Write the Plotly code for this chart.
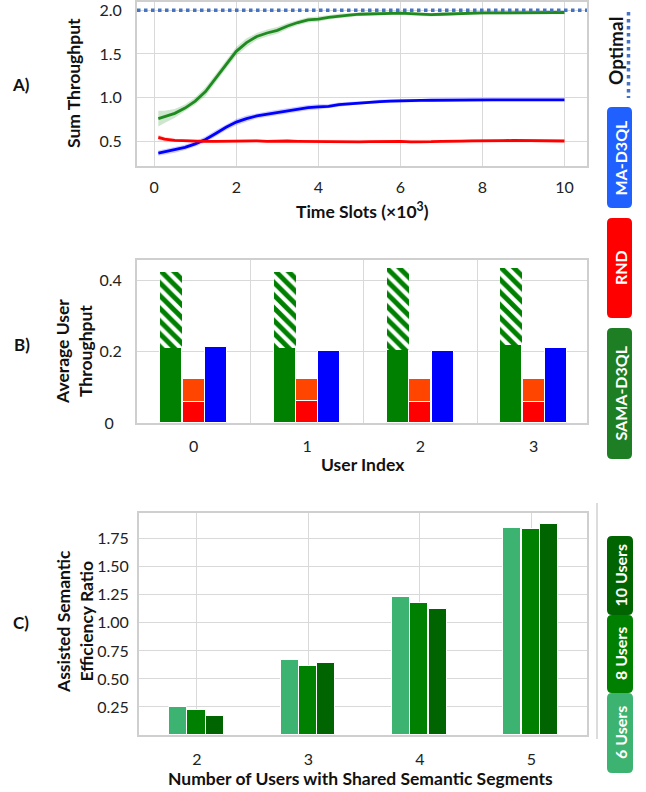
import plotly.graph_objects as go

FONT = "Lato"

# ---------------- Panel A data ----------------
t_slots = [0.1, 0.25, 0.5, 0.75, 1.0, 1.25, 1.5, 1.75, 2.0, 2.25, 2.5, 2.75, 3.0, 3.25, 3.5, 3.75,
           4.0, 4.25, 4.5, 4.75, 5.0, 5.25, 5.5, 5.75, 6.0, 6.25, 6.5, 6.75, 7.0, 7.25, 7.5, 7.75,
           8.0, 8.25, 8.5, 8.75, 9.0, 9.25, 9.5, 9.75, 10.0]
sama_mean = [0.76, 0.78, 0.82, 0.88, 0.96, 1.07, 1.22, 1.38, 1.53, 1.63, 1.70, 1.74, 1.77, 1.82, 1.86, 1.89,
             1.90, 1.92, 1.935, 1.945, 1.955, 1.96, 1.965, 1.965, 1.967, 1.962, 1.955, 1.95, 1.955, 1.96, 1.965, 1.968,
             1.97, 1.97, 1.972, 1.972, 1.973, 1.974, 1.975, 1.975, 1.975]
sama_std = [0.09, 0.07, 0.05, 0.04, 0.04, 0.05, 0.05, 0.05, 0.05, 0.05, 0.04, 0.04, 0.04, 0.035, 0.03, 0.03,
            0.03, 0.025, 0.025, 0.02, 0.02, 0.02, 0.02, 0.02, 0.02, 0.02, 0.02, 0.02, 0.02, 0.02, 0.02, 0.02,
            0.02, 0.02, 0.02, 0.02, 0.02, 0.02, 0.02, 0.02, 0.02]
ma_mean = [0.365, 0.38, 0.40, 0.43, 0.47, 0.52, 0.59, 0.66, 0.72, 0.76, 0.79, 0.81, 0.83, 0.85, 0.865, 0.885,
           0.895, 0.90, 0.92, 0.93, 0.94, 0.945, 0.955, 0.96, 0.965, 0.965, 0.968, 0.97, 0.972, 0.972, 0.973, 0.974,
           0.975, 0.975, 0.974, 0.975, 0.976, 0.975, 0.975, 0.975, 0.974]
ma_std = [0.03, 0.03, 0.03, 0.03, 0.03, 0.035, 0.035, 0.035, 0.035, 0.035, 0.03, 0.03, 0.03, 0.03, 0.03, 0.03,
          0.03, 0.025, 0.025, 0.02, 0.02, 0.02, 0.02, 0.02, 0.02, 0.015, 0.015, 0.015, 0.015, 0.015, 0.015, 0.015,
          0.015, 0.015, 0.015, 0.015, 0.015, 0.015, 0.015, 0.015, 0.015]
rnd_mean = [0.545, 0.525, 0.51, 0.505, 0.50, 0.498, 0.50, 0.502, 0.498, 0.50, 0.505, 0.50, 0.505, 0.503, 0.50, 0.498,
            0.497, 0.50, 0.497, 0.495, 0.493, 0.495, 0.497, 0.498, 0.50, 0.493, 0.49, 0.495, 0.50, 0.498, 0.502, 0.505,
            0.503, 0.505, 0.507, 0.51, 0.51, 0.507, 0.505, 0.503, 0.503]
rnd_std = [0.03, 0.025, 0.02, 0.015, 0.015, 0.015, 0.015, 0.015, 0.015, 0.015, 0.015, 0.015, 0.015, 0.015, 0.015, 0.015,
           0.015, 0.015, 0.015, 0.015, 0.015, 0.015, 0.015, 0.015, 0.015, 0.015, 0.015, 0.015, 0.015, 0.015, 0.015, 0.015,
           0.015, 0.015, 0.015, 0.015, 0.015, 0.015, 0.015, 0.015, 0.015]
optimal_value = [2.0]

# ---------------- Panel B data ----------------
user_index = [0, 1, 2, 3]
sama_user = [0.210, 0.210, 0.205, 0.219]
sama_assisted = [0.215, 0.215, 0.231, 0.217]
rnd_lower = [0.060, 0.062, 0.060, 0.060]
rnd_upper = [0.063, 0.061, 0.063, 0.063]
ma_user = [0.214, 0.202, 0.201, 0.211]

# ---------------- Panel C data ----------------
shared_users = ["2", "3", "4", "5"]
ratio_6 = [0.247, 0.670, 1.228, 1.844]
ratio_8 = [0.223, 0.617, 1.174, 1.838]
ratio_10 = [0.167, 0.646, 1.121, 1.880]

W, H = 646, 792
GREEN_L = "#1f8a1f"
BLUE_L = "#0000ff"
RED_L = "#ff0000"

def px(x):
    return x / W

def py(y):
    return 1 - y / H

fig = go.Figure()

def band(x, m, s, color, axis):
    up = [a + b for a, b in zip(m, s)]
    lo = [a - b for a, b in zip(m, s)]
    fig.add_trace(go.Scatter(x=x + x[::-1], y=up + lo[::-1], fill="toself", fillcolor=color,
                             line=dict(width=0), mode="lines", hoverinfo="skip", showlegend=False,
                             xaxis=axis[0], yaxis=axis[1]))

band(t_slots, sama_mean, sama_std, "rgba(31,138,31,0.22)", ("x", "y"))
band(t_slots, ma_mean, ma_std, "rgba(0,0,255,0.2)", ("x", "y"))
band(t_slots, rnd_mean, rnd_std, "rgba(255,0,0,0.2)", ("x", "y"))
fig.add_trace(go.Scatter(x=t_slots, y=sama_mean, mode="lines", line=dict(color=GREEN_L, width=2.8),
                         showlegend=False, xaxis="x", yaxis="y"))
fig.add_trace(go.Scatter(x=t_slots, y=ma_mean, mode="lines", line=dict(color=BLUE_L, width=2.8),
                         showlegend=False, xaxis="x", yaxis="y"))
fig.add_trace(go.Scatter(x=t_slots, y=rnd_mean, mode="lines", line=dict(color=RED_L, width=2.8),
                         showlegend=False, xaxis="x", yaxis="y"))

# Panel B bars
BW = 0.195
fig.add_trace(go.Bar(x=user_index, y=sama_user, width=BW, offset=-0.295, marker=dict(color="#008000", line=dict(color="white", width=1)),
                     showlegend=False, xaxis="x2", yaxis="y2"))
fig.add_trace(go.Bar(x=user_index, y=sama_assisted, base=sama_user, width=BW, offset=-0.295,
                     marker=dict(color="white", line=dict(width=0),
                                 pattern=dict(shape="\\", fgcolor="#008000", bgcolor="white", fgopacity=1,
                                              size=9, solidity=0.55)),
                     showlegend=False, xaxis="x2", yaxis="y2"))
fig.add_trace(go.Bar(x=user_index, y=rnd_lower, width=BW, offset=-0.0975, marker=dict(color="#ff0000", line=dict(color="white", width=1)),
                     showlegend=False, xaxis="x2", yaxis="y2"))
fig.add_trace(go.Bar(x=user_index, y=rnd_upper, base=rnd_lower, width=BW, offset=-0.0975,
                     marker=dict(color="#ff4500", line=dict(color="white", width=1)),
                     showlegend=False, xaxis="x2", yaxis="y2"))
fig.add_trace(go.Bar(x=user_index, y=ma_user, width=BW, offset=0.1, marker=dict(color="#0000ff", line=dict(color="white", width=1)),
                     showlegend=False, xaxis="x2", yaxis="y2"))

# Panel C bars
cx = list(range(len(shared_users)))
CW = 0.162
for vals, off, col in [(ratio_6, -0.25, "#3cb371"), (ratio_8, -0.085, "#008000"), (ratio_10, 0.08, "#006400")]:
    fig.add_trace(go.Bar(x=cx, y=vals, width=CW, offset=off, marker=dict(color=col, line=dict(color="white", width=1)),
                         showlegend=False, xaxis="x3", yaxis="y3"))

GRID = "#d9d9d9"
LINE = "#cfcfcf"
tickfont = dict(family=FONT, size=16, color="#222")
common = dict(showline=True, mirror=True, linecolor=LINE, linewidth=2, gridcolor=GRID, gridwidth=1.3,
              zeroline=False, tickfont=tickfont, ticks="outside", tickcolor="rgba(0,0,0,0)",
              automargin=False, ticklabeloverflow="allow")

xdom = [px(137), px(587)]
fig.update_layout(
    width=W, height=H, margin=dict(l=0, r=0, t=0, b=0, pad=0),
    paper_bgcolor="white", plot_bgcolor="white", barmode="overlay", bargap=0,
    xaxis=dict(domain=xdom, range=[-0.42, 10.55], tickvals=[0, 2, 4, 6, 8, 10], ticklen=6, anchor="y", **common),
    yaxis=dict(domain=[py(166), py(2)], range=[0.217, 2.095], tickvals=[0.5, 1.0, 1.5, 2.0], ticktext=["0.5", "1.0", "1.5", "2.0"],
               ticklen=10, anchor="x", **common),
    xaxis2=dict(domain=xdom, range=[-0.5, 3.47], tickvals=user_index, ticktext=[str(u) for u in user_index], showgrid=False,
                minor=dict(tickvals=[0.5, 1.5, 2.5], showgrid=True, gridcolor=GRID, gridwidth=1.3, ticks=""),
                ticklen=8, anchor="y2", **{k: v for k, v in common.items() if k not in ("gridcolor", "gridwidth")}),
    yaxis2=dict(domain=[py(423), py(260)], range=[0, 0.458], tickvals=[0, 0.2, 0.4], ticktext=["0\u2002", "0.2", "0.4"],
                ticklen=10, anchor="x2", **common),
    xaxis3=dict(domain=[px(139), px(587)], range=[-0.52, 3.5], tickvals=cx, ticktext=shared_users, ticklen=9, anchor="y3", **common),
    yaxis3=dict(domain=[py(735), py(513)], range=[0, 1.98], tickvals=[0.25, 0.5, 0.75, 1.0, 1.25, 1.5, 1.75],
                ticktext=["0.25", "0.50", "0.75", "1.00", "1.25", "1.50", "1.75"], ticklen=5, anchor="x3", **common),
)

# Optimal line
fig.add_shape(type="line", xref="x domain", yref="y", x0=0, x1=1, y0=optimal_value[0], y1=optimal_value[0],
              line=dict(color="#4472c4", width=3.5, dash="dot"))

bold = dict(family=FONT, size=17, color="#111")

def ann(text, x, y, angle=0, size=None, color=None):
    f = dict(bold)
    if size:
        f["size"] = size
    if color:
        f["color"] = color
    fig.add_annotation(text=text, x=px(x), y=py(y), xref="paper", yref="paper", showarrow=False,
                       textangle=angle, xanchor="center", yanchor="middle", font=f)

# Panel labels
ann("<b>A)</b>", 21, 85)
ann("<b>B)</b>", 22, 345)
ann("<b>C)</b>", 21, 622)
# Axis titles
ann("<b>Sum Throughput</b>", 74, 83, angle=-90, size=17.5)
ann("<b>Time Slots (×10<sup>3</sup>)</b>", 362, 210, size=17.5)
ann("<b>Average User<br>Throughput</b>", 74, 352, angle=-90, size=17.5)
ann("<b>User Index</b>", 363, 464, size=17.5)
ann("<b>Assisted Semantic<br>Efficiency Ratio</b>", 75, 622, angle=-90, size=17.5)
ann("<b>Number of Users with Shared Semantic Segments</b>", 360, 778, size=17.5)

# Legend pills
def pill(x0, y0, x1, y1, color, r=5):
    rx, ry = r / W, r / H
    X0, X1 = px(x0), px(x1)
    Y0, Y1 = py(y1), py(y0)
    path = (f"M {X0+rx},{Y0} L {X1-rx},{Y0} Q {X1},{Y0} {X1},{Y0+ry} L {X1},{Y1-ry} Q {X1},{Y1} {X1-rx},{Y1} "
            f"L {X0+rx},{Y1} Q {X0},{Y1} {X0},{Y1-ry} L {X0},{Y0+ry} Q {X0},{Y0} {X0+rx},{Y0} Z")
    fig.add_shape(type="path", path=path, xref="paper", yref="paper", fillcolor=color, line=dict(width=0))

legend_top = [("MA-D3QL", 107, 208, "#2060ff"), ("RND", 218, 318, "#ff0000"), ("SAMA-D3QL", 328, 459, "#1e7e24")]
for name, y0, y1, col in legend_top:
    pill(607, y0, 632, y1, col)
    ann(f"<b>{name}</b>", 620, (y0 + y1) / 2, angle=-90, size=16, color="white")

ann("<b>Optimal</b>", 615, 51, angle=-90, size=19, color="#111")
fig.add_shape(type="line", xref="paper", yref="paper", x0=px(628.5), x1=px(628.5), y0=py(12), y1=py(98),
              line=dict(color="#4472c4", width=3.5, dash="dot"))

legend_c = [("10 Users", 536, 615, "#006400"), ("8 Users", 615, 693, "#008000"), ("6 Users", 693, 773, "#3cb371")]
for name, y0, y1, col in legend_c:
    pill(607, y0, 633, y1, col)
    ann(f"<b>{name}</b>", 620, (y0 + y1) / 2, angle=-90, size=16, color="white")

fig.add_shape(type="line", xref="paper", yref="paper", x0=px(597), x1=px(597), y0=py(503), y1=py(739),
              line=dict(color="#d0d0d0", width=1.5))

fig.write_html("out.html", config={"displayModeBar": False},
               post_script="document.body.style.margin='0px';")
